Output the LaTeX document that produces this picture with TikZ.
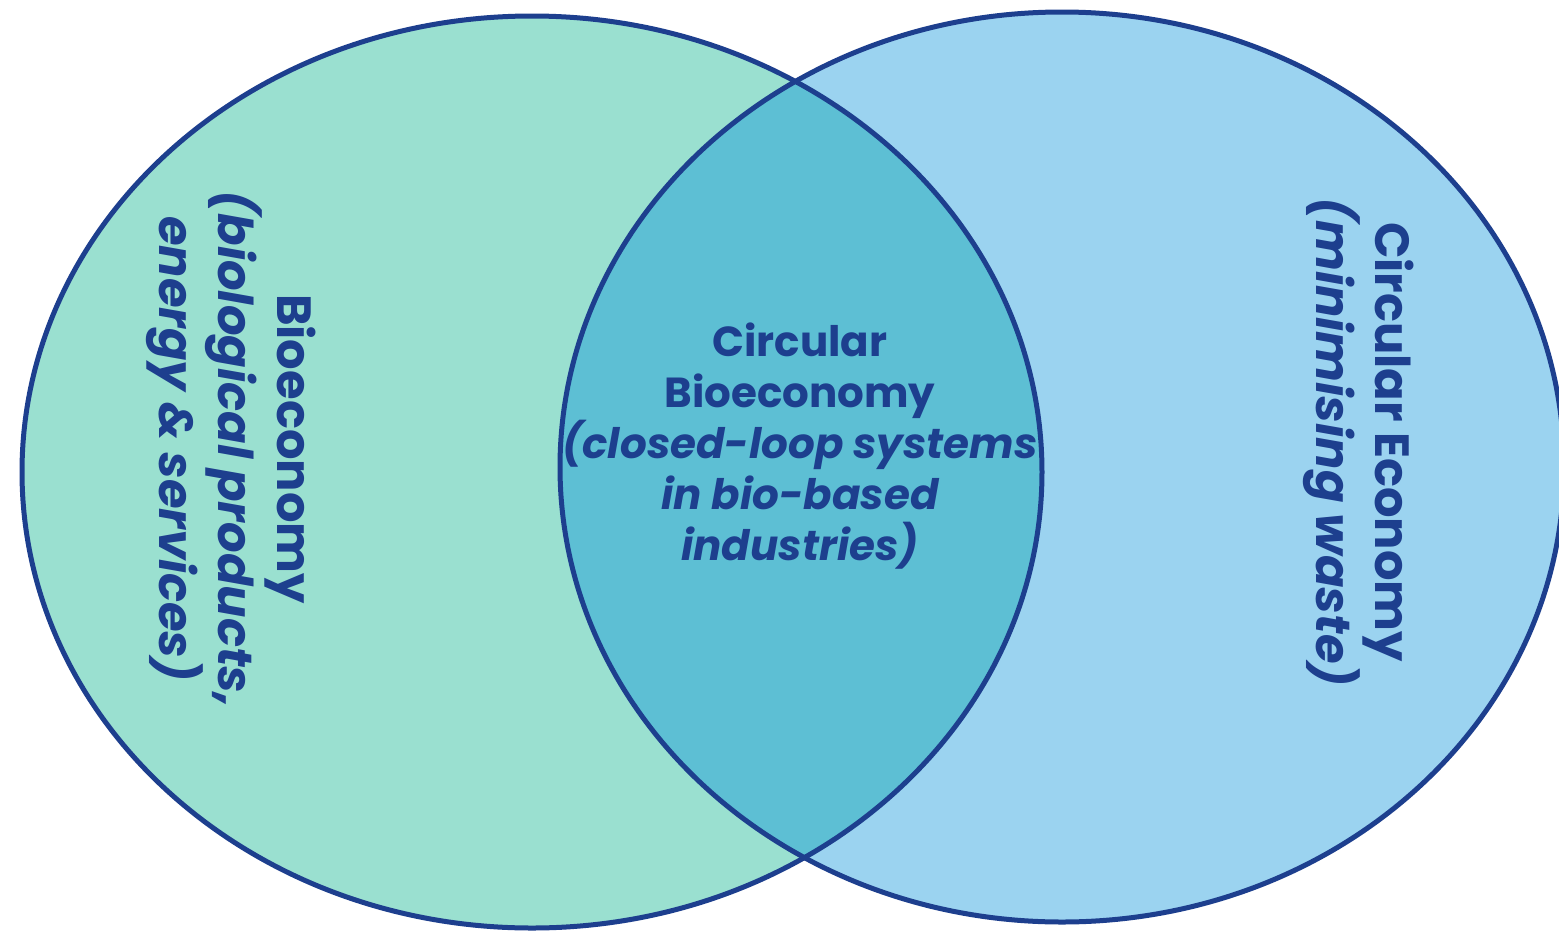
\documentclass[tikz,border=0pt]{standalone}
\usepackage{fontspec}
\setmainfont{Poppins}
\definecolor{inkblue}{HTML}{1D3F8E}
\definecolor{mint}{HTML}{9AE0D0}
\definecolor{skyb}{HTML}{9BD3F0}
\definecolor{lens}{HTML}{5DBFD4}
\begin{document}
\begin{tikzpicture}[x=1pt,y=-1pt,
  rim/.style={draw=inkblue,line width=5pt},
  lbl/.style={text=inkblue,align=center,inner sep=0pt,font=\bfseries\fontsize{42}{51}\selectfont},
  vlbl/.style={text=inkblue,align=center,inner sep=0pt,rotate=-90,font=\bfseries\fontsize{48}{59}\selectfont}]
\useasboundingbox (0,0) rectangle (1559,930);
\fill[white] (0,0) rectangle (1559,930);
\fill[mint] (532,472) ellipse [x radius=510, y radius=456];
\fill[skyb] (1062,467) ellipse [x radius=502, y radius=455];
\begin{scope}
\clip (532,472) ellipse [x radius=510, y radius=456];
\fill[lens] (1062,467) ellipse [x radius=502, y radius=455];
\end{scope}
\draw[rim] (532,472) ellipse [x radius=510, y radius=456];
\draw[rim] (1062,467) ellipse [x radius=502, y radius=455];
\node[lbl] (mid) at (800,446) {Circular\\Bioeconomy\\\itshape(closed-loop systems\\\itshape in bio-based\\\itshape industries)};
\node[vlbl] (bio) at (231,449) {Bioeconomy\\\itshape(biological products,\\\itshape energy \& services)};
\node[vlbl] (circ) at (1359,442) {Circular Economy\\\itshape(minimising waste)};
\end{tikzpicture}
\end{document}
